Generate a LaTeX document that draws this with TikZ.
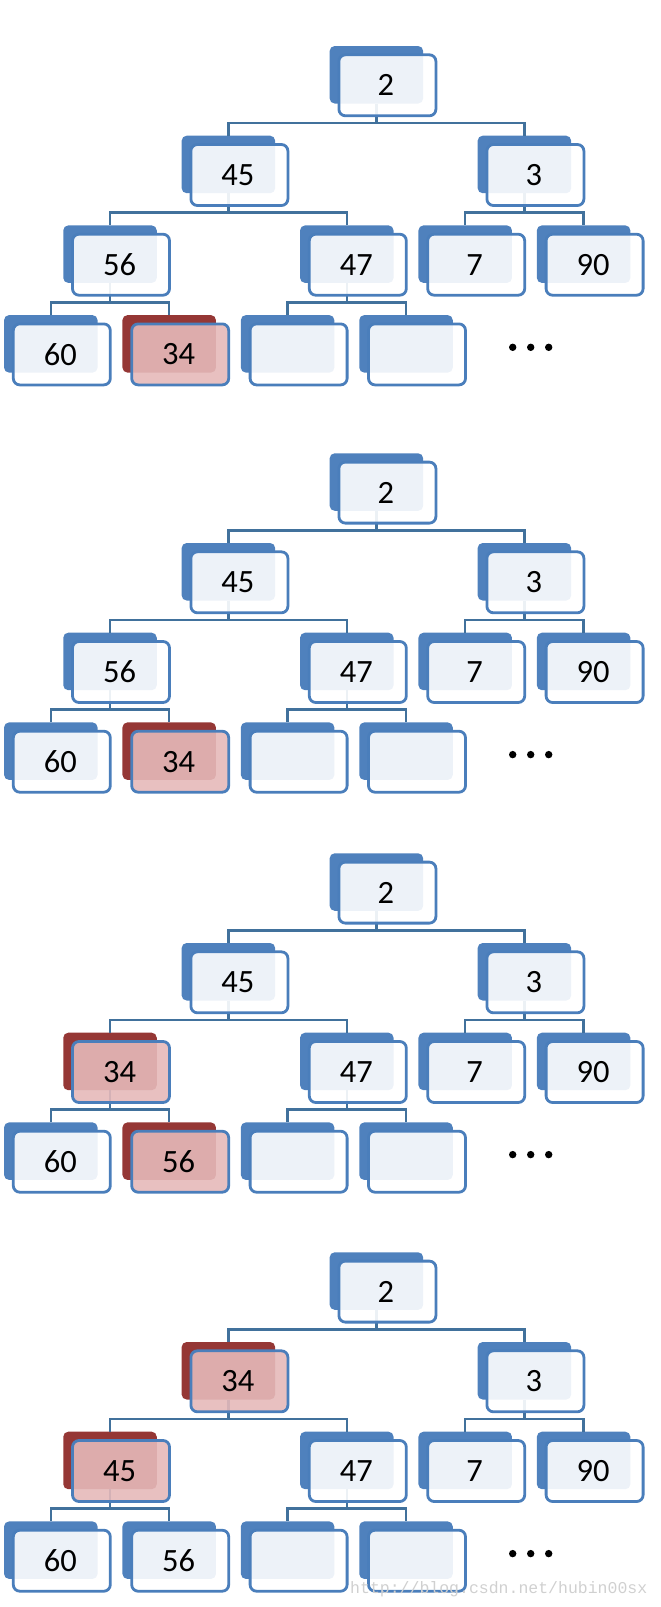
\documentclass[tikz,border=0pt]{standalone}
\usepackage{fontspec}
\setmainfont{Carlito}
\newfontfamily\wmfont{Liberation Mono}
\definecolor{bkblue}{HTML}{4F81BD}
\definecolor{bkred}{HTML}{953735}
\definecolor{edgeblue}{HTML}{41719C}
\definecolor{frblue}{HTML}{4A7EBB}
\definecolor{frpink}{HTML}{E5B9B9}
\definecolor{wmgray}{RGB}{208,208,208}
\tikzset{
 backbox/.style={rectangle, rounded corners=5pt, minimum width=93.5pt, minimum height=57.5pt, inner sep=0pt, outer sep=0pt, draw=none},
 bk/.style={fill=bkblue},
 rd/.style={fill=bkred},
 frontbox/.style={rectangle, rounded corners=6.5pt, minimum width=97pt, minimum height=61pt, inner sep=0pt, outer sep=0pt, draw=frblue, line width=2.8pt, fill opacity=0.9, text opacity=1, font=\fontsize{32.5}{38}\selectfont},
 fbk/.style={fill=white},
 frd/.style={fill=frpink},
 edgeline/.style={draw=edgeblue, line width=2.5pt},
 dotmark/.style={fill=black},
}
\newcommand\tn[4]{\node[backbox,#4] (#1) at (#2,#3+28.75) {};}
\newcommand\fn[3]{\node[frontbox,#3] (#1f) at ([xshift=11pt,yshift=-10.55pt]#1.center) {\hspace*{-3pt}#2};}
\newcommand\lk[2]{\draw[edgeline] (#1.south) -- ++(0,19.5) -| (#2.north);}
% #1 id, #2 top, #3 L1a label, #4 L1a style, #5 L2a label, #6 L2a style, #7 L3b label, #8 L3b style
\newcommand\drawtree[8]{%
 \pgfmathsetmacro\tA{#2}%
 \pgfmathsetmacro\tB{#2+89.7}%
 \pgfmathsetmacro\tC{#2+179.4}%
 \pgfmathsetmacro\tD{#2+269.1}%
 \tn{#1r}{376.4}{\tA}{bk}
 \tn{#1a}{228.4}{\tB}{#4}
 \tn{#1b}{524.4}{\tB}{bk}
 \tn{#1aa}{110}{\tC}{#6}
 \tn{#1ab}{346.8}{\tC}{bk}
 \tn{#1ba}{465.2}{\tC}{bk}
 \tn{#1bb}{583.6}{\tC}{bk}
 \tn{#1aaa}{50.8}{\tD}{bk}
 \tn{#1aab}{169.2}{\tD}{#8}
 \tn{#1aba}{287.6}{\tD}{bk}
 \tn{#1abb}{406}{\tD}{bk}
 \lk{#1r}{#1a}\lk{#1r}{#1b}
 \lk{#1a}{#1aa}\lk{#1a}{#1ab}
 \lk{#1b}{#1ba}\lk{#1b}{#1bb}
 \lk{#1aa}{#1aaa}\lk{#1aa}{#1aab}
 \lk{#1ab}{#1aba}\lk{#1ab}{#1abb}
 \fn{#1r}{2}{fbk}
 \fn{#1a}{#3}{f#4}
 \fn{#1b}{3}{fbk}
 \fn{#1aa}{#5}{f#6}
 \fn{#1ab}{47}{fbk}
 \fn{#1ba}{7}{fbk}
 \fn{#1bb}{90}{fbk}
 \fn{#1aaa}{60}{fbk}
 \fn{#1aab}{#7}{f#8}
 \fn{#1aba}{}{fbk}
 \fn{#1abb}{}{fbk}
 \fill[dotmark] (512.7,#2+301.3) circle (3.7pt);
 \fill[dotmark] (530.7,#2+301.3) circle (3.7pt);
 \fill[dotmark] (548.7,#2+301.3) circle (3.7pt);
}
\begin{document}
\begin{tikzpicture}[x=1pt,y=-1pt]
\useasboundingbox (0,0) rectangle (661,1607);
\drawtree{t1}{46}{45}{bk}{56}{bk}{34}{rd}
\drawtree{t2}{453.3}{45}{bk}{56}{bk}{34}{rd}
\drawtree{t3}{853.3}{45}{bk}{34}{rd}{56}{rd}
\drawtree{t4}{1252.3}{34}{rd}{45}{rd}{56}{bk}
\node[anchor=base west, text=wmgray, font=\wmfont\fontsize{16.5}{18}\selectfont, inner sep=0pt] (wm) at (350,1593) {http://blog.csdn.net/hubin00sx};
\end{tikzpicture}
\end{document}
